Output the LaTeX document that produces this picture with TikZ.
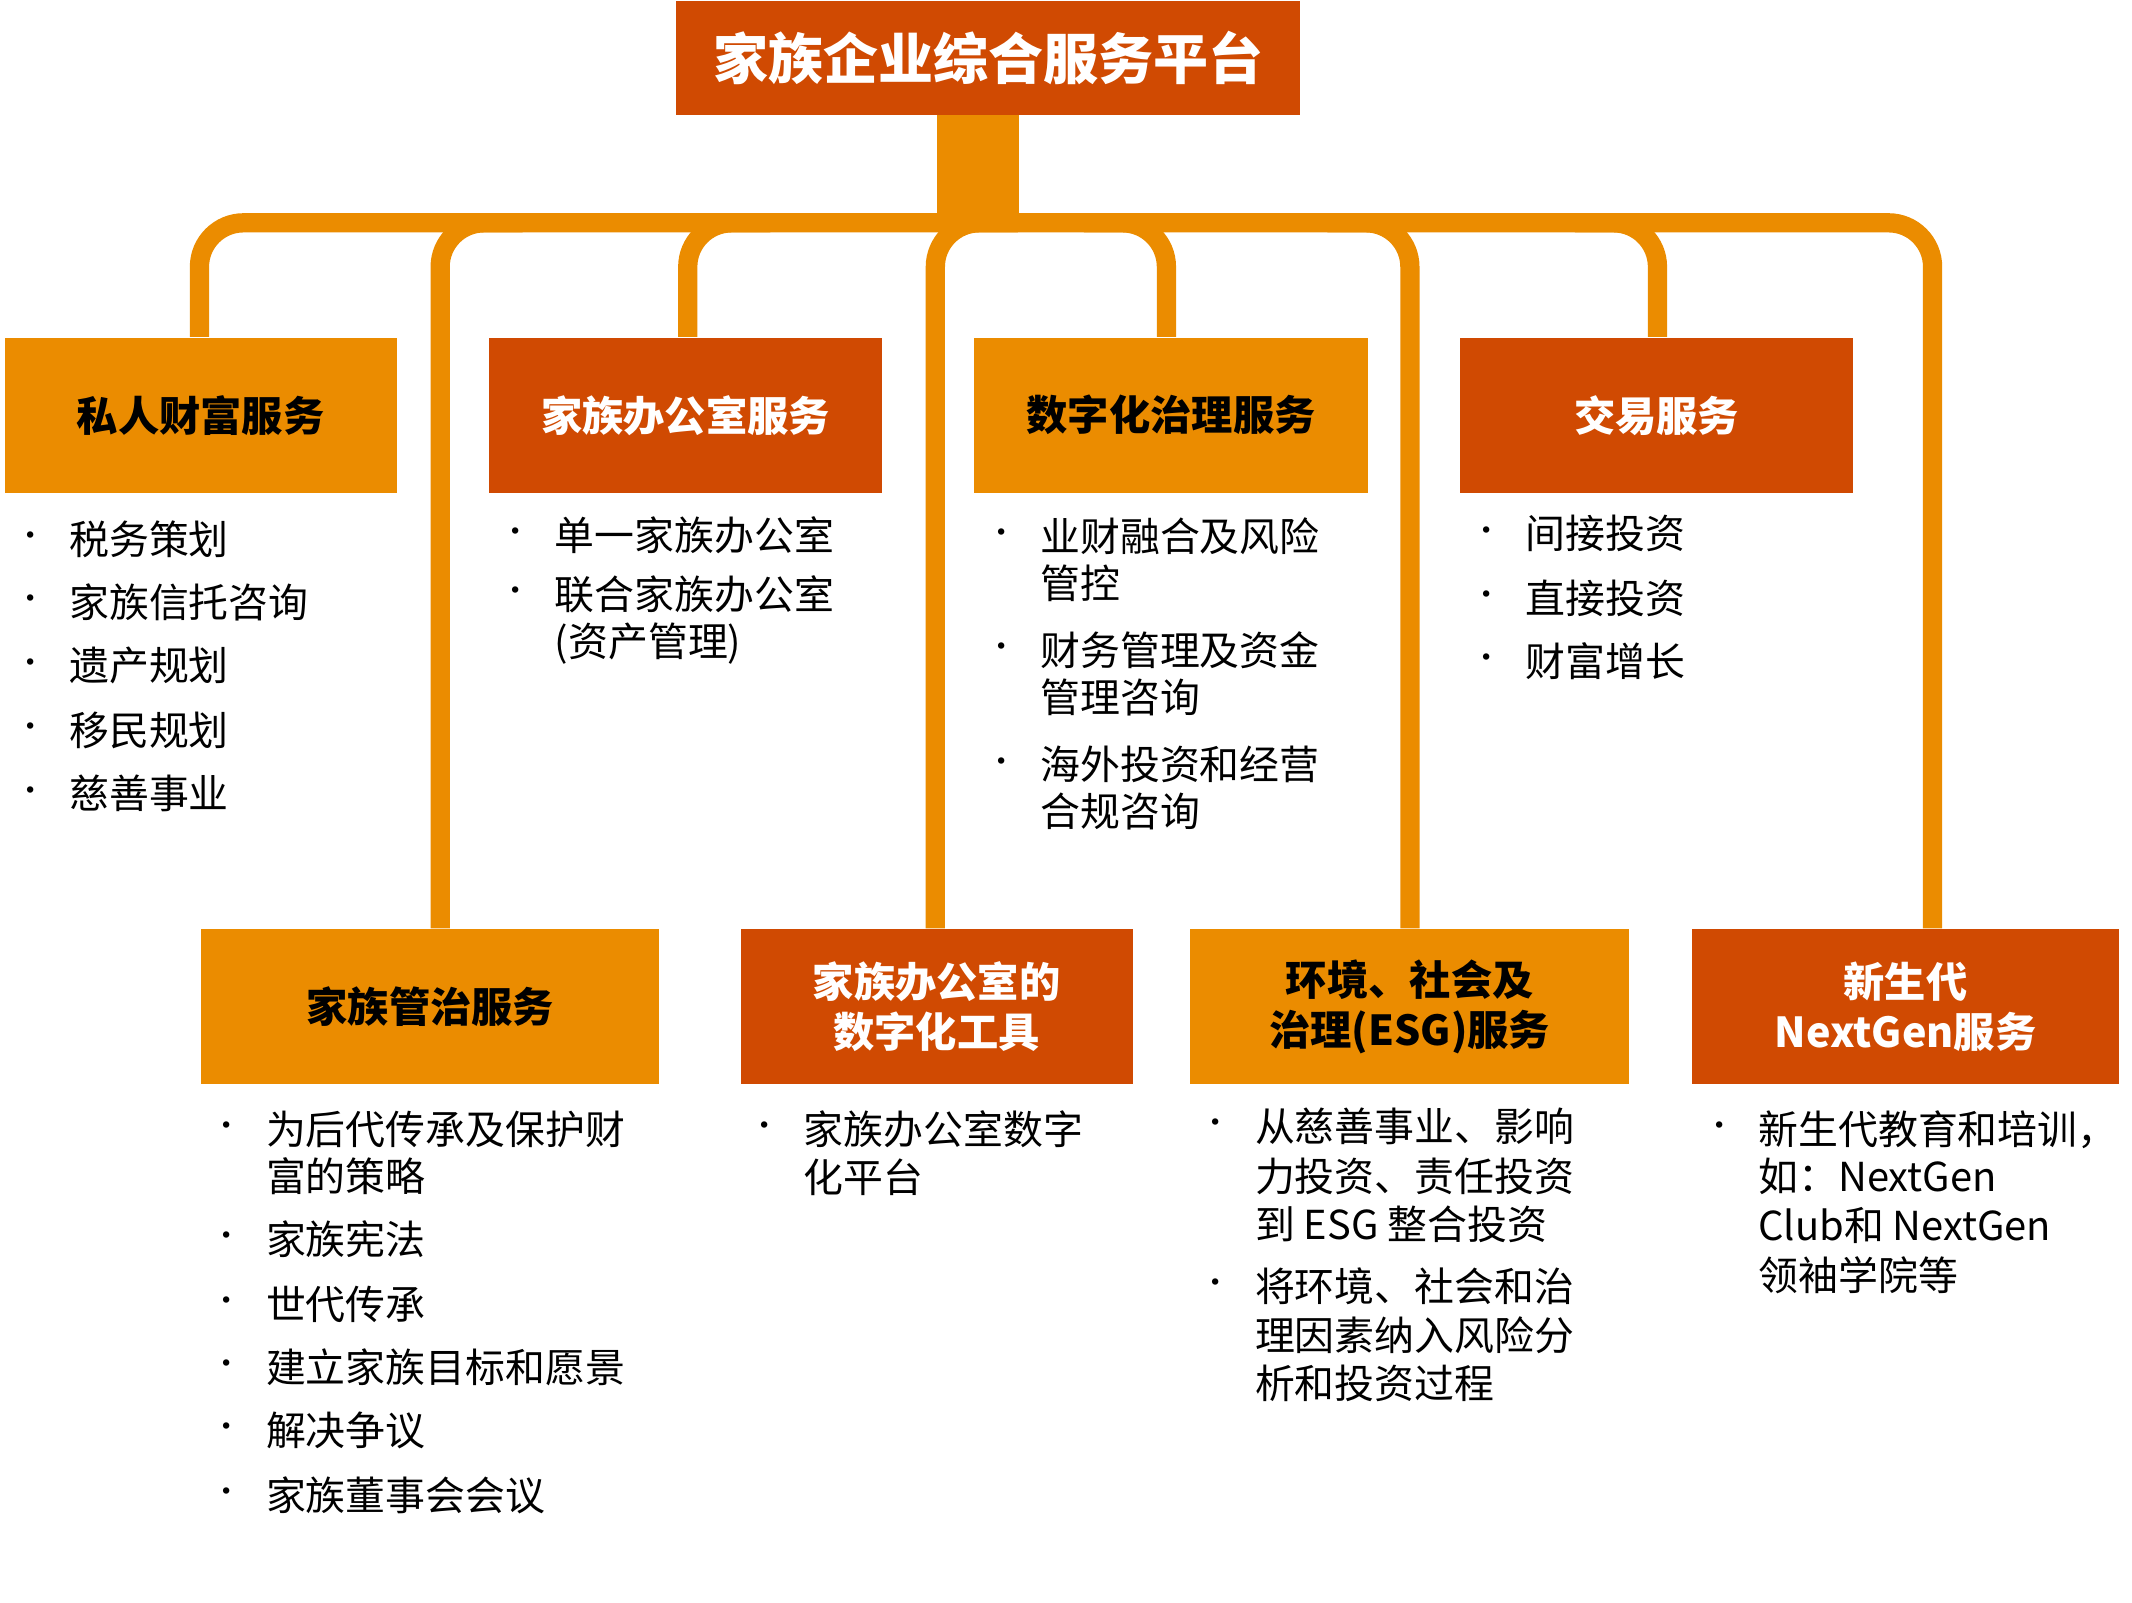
\documentclass[tikz,border=0pt]{standalone}
\usepackage{fontspec}
\setmainfont{Noto Sans CJK SC}
\begin{document}
\definecolor{lo}{HTML}{EB8C00}
\definecolor{dk}{HTML}{D04A02}
\begin{tikzpicture}[x=0.5pt,y=-0.5pt,
  ln/.style={draw=lo,line width=7pt,rounded corners=16pt},
  hdr/.style={anchor=north west,inner sep=0pt,font=\fontsize{15}{18}\selectfont\bfseries,align=center},
  it/.style={anchor=west,inner sep=0pt,font=\fontsize{14.5}{17}\selectfont},
  bl/.style={anchor=center,inner sep=0pt,font=\fontsize{11}{12}\selectfont}]
\useasboundingbox (0,0) rectangle (1550,1165);
% connectors
\draw[ln] (145,245) -- (145,162) -- (1405,162) -- (1405,675);
\foreach \x/\y in {320/675,500/245,680/675}{\draw[ln] (\x,\y) -- (\x,162) -- (\x+60,162);}
\foreach \x/\y in {848/245,1025/675,1205/245}{\draw[ln] (\x,\y) -- (\x,162) -- (\x-60,162);}
\fill[lo] (681,80) rectangle (741,160);
% title
\node[fill=dk,text=white,minimum width=227pt,minimum height=41.5pt,anchor=north west,inner sep=0pt,font=\fontsize{20}{24}\selectfont\bfseries] (title) at (491,0) {家族企业综合服务平台};
% boxes
\newcommand\bx[7]{\node[hdr,fill=#6,text=#7,minimum width=#3*0.5pt,minimum height=#4*0.5pt] (#5) at (#1,#2) {};\node[font=\fontsize{15}{18}\selectfont\bfseries,text=#7,align=center] at (#5.center) {\strut};}
\node[hdr,fill=lo,text=black,minimum width=142.5pt,minimum height=56.5pt] (b1) at (3,245) {私人财富服务};
\node[hdr,fill=dk,text=white,minimum width=143pt,minimum height=56.5pt] (b2) at (355,245) {家族办公室服务};
\node[hdr,fill=lo,text=black,minimum width=143pt,minimum height=56.5pt] (b3) at (708,245) {数字化治理服务};
\node[hdr,fill=dk,text=white,minimum width=143pt,minimum height=56.5pt] (b4) at (1061,245) {交易服务};
\node[hdr,fill=lo,text=black,minimum width=166.5pt,minimum height=56.5pt] (b5) at (146,675) {家族管治服务};
\node[hdr,fill=dk,text=white,minimum width=142.5pt,minimum height=56.5pt] (b6) at (538,675) {家族办公室的\\数字化工具};
\node[hdr,fill=lo,text=black,minimum width=159.5pt,minimum height=56.5pt] (b7) at (865,675) {环境、社会及\\治理(ESG)服务};
\node[hdr,fill=dk,text=white,minimum width=155pt,minimum height=56.5pt] (b8) at (1230,675) {新生代\\NextGen服务};
% items
\newcommand\bul[3]{\node[bl] at (#1,#2) {•};\node[it] at (#1+28,#2) {#3};}
\newcommand\cont[3]{\node[it] at (#1+28,#2) {#3};}
\bul{22}{392}{税务策划}\bul{22}{438}{家族信托咨询}\bul{22}{484}{遗产规划}\bul{22}{531}{移民规划}\bul{22}{577}{慈善事业}
\bul{375}{389}{单一家族办公室}\bul{375}{432}{联合家族办公室}\cont{375}{468}{(资产管理)}
\bul{728}{390}{业财融合及风险}\cont{728}{424}{管控}\bul{728}{473}{财务管理及资金}\cont{728}{507}{管理咨询}\bul{728}{556}{海外投资和经营}\cont{728}{590}{合规咨询}
\bul{1081}{388}{间接投资}\bul{1081}{435}{直接投资}\bul{1081}{481}{财富增长}
\bul{165}{821}{为后代传承及保护财}\cont{165}{855}{富的策略}\bul{165}{901}{家族宪法}\bul{165}{948}{世代传承}\bul{165}{994}{建立家族目标和愿景}\bul{165}{1040}{解决争议}\bul{165}{1087}{家族董事会会议}
\bul{556}{821}{家族办公室数字}\cont{556}{856}{化平台}
\bul{884}{819}{从慈善事业、影响}\cont{884}{855}{力投资、责任投资}\cont{884}{890}{到 ESG 整合投资}\bul{884}{935}{将环境、社会和治}\cont{884}{971}{理因素纳入风险分}\cont{884}{1006}{析和投资过程}
\bul{1250}{821}{新生代教育和培训，}\cont{1250}{855}{如：NextGen}\cont{1250}{891}{Club和 NextGen}\cont{1250}{927}{领袖学院等}
\end{tikzpicture}
\end{document}
